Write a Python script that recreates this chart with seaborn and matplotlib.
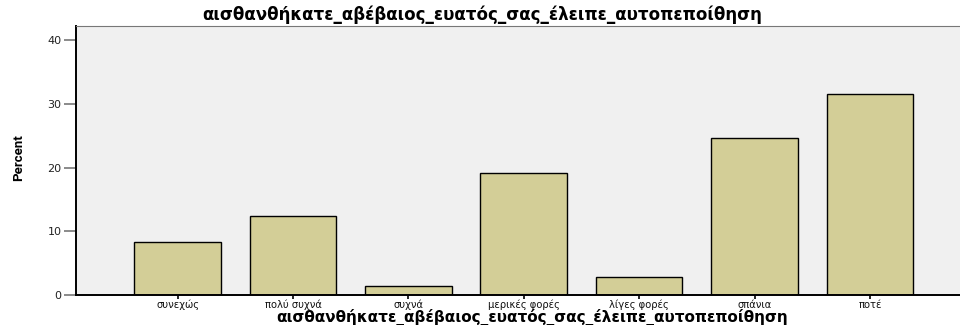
import matplotlib
matplotlib.use("Agg")
import matplotlib.pyplot as plt
import seaborn as sns
import pandas as pd

# Response categories and their share of respondents (%)
categories = ["συνεχώς", "πολύ συχνά", "συχνά", "μερικές φορές",
              "λίγες φορές", "σπάνια", "ποτέ"]
percent = [8.3, 12.4, 1.4, 19.2, 2.8, 24.6, 31.5]
y_ticks = [0, 10, 20, 30, 40]

var_name = "αισθανθήκατε_αβέβαιος_ευατός_σας_έλειπε_αυτοπεποίθηση"

df = pd.DataFrame({"category": categories, "percent": percent})

sns.set_theme(style="white")
plt.rcParams["font.family"] = ["DejaVu Sans"]

fig = plt.figure(figsize=(9.6, 3.25), dpi=100)
fig.patch.set_facecolor("white")
ax = fig.add_axes([76 / 960, 30 / 325, 884 / 960, 269 / 325])
ax.set_facecolor("#F0F0F0")

sns.barplot(data=df, x="category", y="percent", order=categories,
            color="#D3CE97", saturation=1, width=0.75,
            edgecolor="black", linewidth=1.0, ax=ax)

ax.set_xlim(-0.88, 6.78)
ax.set_ylim(0, 42.2)
ax.set_yticks(y_ticks)
ax.set_yticklabels([str(v) for v in y_ticks], fontsize=8, color="#222222")
ax.set_xticks(range(len(categories)))
ax.set_xticklabels(categories, fontsize=7.2, color="#111111")

ax.tick_params(axis="y", direction="out", length=9, width=1.2,
               color="#777777", pad=1.5, left=True)
ax.tick_params(axis="x", direction="out", length=3, width=1.2,
               color="black", pad=0.5, bottom=True)

for side in ["left", "bottom"]:
    ax.spines[side].set_visible(True)
    ax.spines[side].set_color("black")
    ax.spines[side].set_linewidth(1.4)
ax.spines["top"].set_visible(True)
ax.spines["top"].set_color("#777777")
ax.spines["top"].set_linewidth(0.8)
ax.spines["right"].set_visible(False)

ax.set_xlabel("")
ax.set_ylabel("")

fig.text(482 / 960, 1 - 19.5 / 325, var_name, ha="center", va="baseline",
         fontsize=12, fontweight="bold", color="black")
fig.text(532 / 960, 1 - 321.5 / 325, var_name, ha="center", va="baseline",
         fontsize=11, fontweight="bold", color="black")
fig.text(19 / 960, 1 - 158 / 325, "Percent", ha="center", va="center",
         rotation=90, fontsize=9.5,
         family=["Liberation Sans Narrow", "Roboto", "DejaVu Sans"],
         fontweight="bold", fontstretch="condensed", color="black")

fig.savefig("out.png", dpi=100, facecolor="white")
